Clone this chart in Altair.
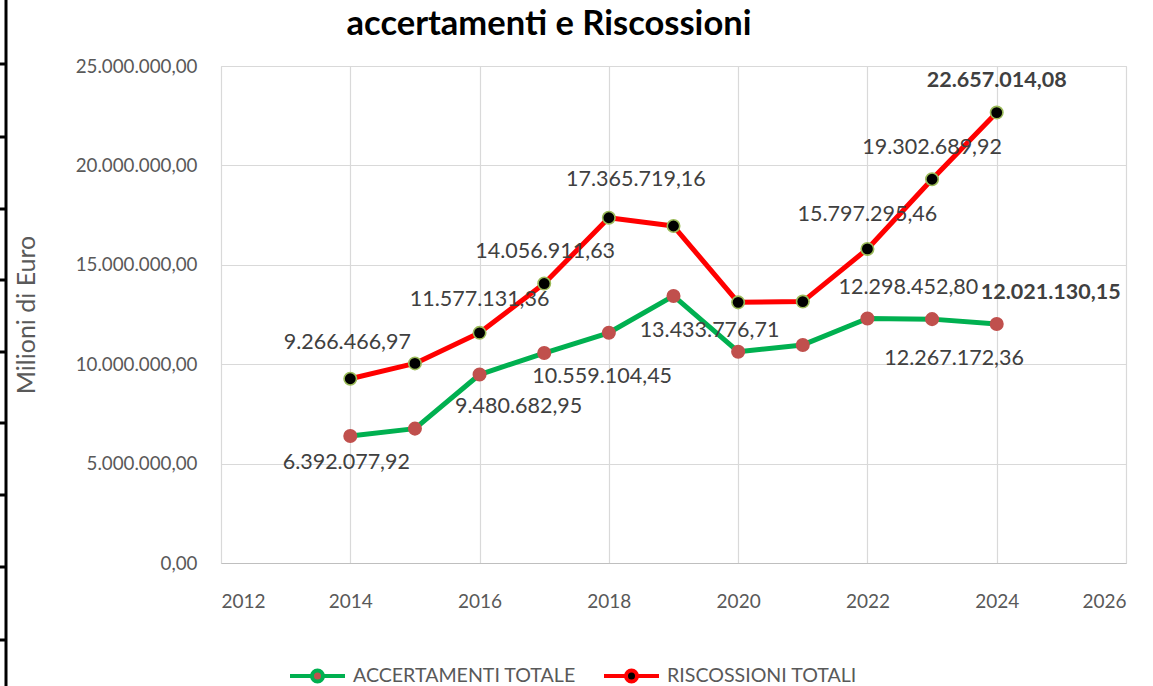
import altair as alt
import pandas as pd

# ---- data ----
years = [2014, 2015, 2016, 2017, 2018, 2019, 2020, 2021, 2022, 2023, 2024]
accertamenti = [6392077.92, 6760000.00, 9480682.95, 10559104.45, 11580000.00,
                13433776.71, 10630000.00, 10970000.00, 12298452.80,
                12267172.36, 12021130.15]
riscossioni = [9266466.97, 10040000.00, 11577131.36, 14056911.63, 17365719.16,
               16950000.00, 13110000.00, 13150000.00, 15797295.46,
               19302689.92, 22657014.08]
series_names = ["ACCERTAMENTI TOTALE", "RISCOSSIONI TOTALI"]
chart_title = "accertamenti e Riscossioni"
y_title = "Milioni di Euro"
x_ticks = [2012, 2014, 2016, 2018, 2020, 2022, 2024, 2026]
y_ticks = [0, 5000000, 10000000, 15000000, 20000000, 25000000]
labeled_acc = [2014, 2016, 2017, 2019, 2022, 2023, 2024]
labeled_ris = [2014, 2016, 2017, 2018, 2022, 2023, 2024]

rows = []
for y, a, r in zip(years, accertamenti, riscossioni):
    rows.append({"year": y, "series": series_names[0], "value": a})
    rows.append({"year": y, "series": series_names[1], "value": r})
df = pd.DataFrame(rows)

# ---- styles ----
FONT = "Lato"
AXIS_GRAY = "#595959"
LABEL_GRAY = "#404040"
W, H = 905, 497

it_fmt = ("replace(replace(replace(format({v}, ',.2f'), regexp(',', 'g'), '#'), "
          "regexp('[.]', 'g'), ','), regexp('#', 'g'), '.')")

x_enc = alt.X("year:Q", scale=alt.Scale(domain=[2012, 2026], nice=False),
              axis=alt.Axis(values=x_ticks, format="d", title=None, ticks=False,
                            labelFont=FONT, labelFontSize=19, labelColor=AXIS_GRAY,
                            labelPadding=29, gridColor="#D9D9D9", gridWidth=1.2,
                            domainColor="#BFBFBF", domainWidth=1.2))
y_enc = alt.Y("value:Q", scale=alt.Scale(domain=[0, 25000000], nice=False),
              axis=alt.Axis(values=y_ticks, title=y_title, ticks=False,
                            domain=False,
                            labelExpr=it_fmt.format(v="datum.value"),
                            labelFont=FONT, labelFontSize=18.75, labelColor=AXIS_GRAY,
                            labelPadding=24, gridColor="#D9D9D9", gridWidth=1.2,
                            titleFont=FONT, titleFontSize=25, titleFontWeight="normal",
                            titleColor=AXIS_GRAY, titleAngle=270, titleX=-195,
                            titleY=H / 2, titleAlign="center",
                            titleBaseline="middle"))

legend_path = ("M-1,0L-0.2,0M0.2,0L1,0"
               "M-0.2,0A0.2,0.2,0,1,1,0.2,0A0.2,0.2,0,1,1,-0.2,0Z")
legend_props = dict(title=None, orient="none", direction="horizontal",
                    legendX=67, legendY=580.5,
                    symbolType=legend_path, symbolSize=3025,
                    symbolStrokeWidth=4, symbolOpacity=1, labelFont=FONT,
                    labelFontSize=19.6, labelColor=AXIS_GRAY, labelLimit=600,
                    labelOffset=6, columnPadding=20, padding=0)

base = alt.Chart(df)

lines = base.mark_line(strokeWidth=5, strokeJoin="round", strokeCap="round").encode(
    x=x_enc, y=y_enc,
    stroke=alt.Stroke("series:N", scale=alt.Scale(domain=series_names,
                                                  range=["#00B050", "#FF0000"]),
                      legend=alt.Legend(**legend_props)),
    detail="series:N",
)

points = base.mark_point(filled=True, size=155, strokeWidth=1.6, opacity=1).encode(
    x="year:Q", y="value:Q",
    fill=alt.Fill("series:N",
                  scale=alt.Scale(domain=series_names, range=["#C0504D", "#000000"]),
                  legend=alt.Legend(**legend_props)),
    stroke=alt.condition(f"datum.series == '{series_names[1]}'",
                         alt.value("#9BBB59"), alt.value("#C0504D")),
)

# label offsets (dx, dy, bold) per series/year
offsets = {
    series_names[0]: {2014: (-4, 27, False), 2016: (39, 32, False), 2017: (58, 24, False),
                      2019: (36, 35, False), 2022: (41, -31, False), 2023: (22, 40, False),
                      2024: (54, -31, True)},
    series_names[1]: {2014: (-3, -36, False), 2016: (0, -33, False), 2017: (1, -32, False),
                      2018: (27, -38, False), 2022: (0, -34, False), 2023: (0, -31, False),
                      2024: (0, -32, True)},
}
labeled = {series_names[0]: labeled_acc, series_names[1]: labeled_ris}

text_layers = []
for s in series_names:
    for yr in labeled[s]:
        dx, dy, bold = offsets[s][yr]
        t = base.transform_filter(
            f"datum.series == '{s}' && datum.year == {yr}"
        ).transform_calculate(
            label=it_fmt.format(v="datum.value")
        ).mark_text(font=FONT, fontSize=21.5, color=LABEL_GRAY, dx=dx, dy=dy,
                    baseline="middle", align="center",
                    fontWeight="bold" if bold else "normal").encode(
            x="year:Q", y="value:Q", text="label:N")
        text_layers.append(t)

one = alt.Data(values=[{"k": 0}])

# chart title, placed over the left part of the plot as in the reference
title_layer = alt.Chart(one).mark_text(
    text=chart_title, font=FONT, fontSize=34.5, fontWeight="bold", color="black",
    align="center", baseline="middle").encode(x=alt.value(328), y=alt.value(-41))

# decoration: dark frame line at the far left of the picture
deco = [alt.Chart(one).mark_rule(color="black", strokeWidth=3).encode(
    x=alt.value(-215), y=alt.value(-66), y2=alt.value(H + 123))]
for ty in [64, 137, 209, 280, 352, 423, 495, 567, 640]:
    deco.append(alt.Chart(one).mark_rule(color="black", strokeWidth=3).encode(
        x=alt.value(-221), x2=alt.value(-215), y=alt.value(ty - 66)))

chart = alt.layer(lines, points, *text_layers, title_layer, *deco).properties(
    width=W, height=H,
    autosize=alt.AutoSizeParams(type="none"),
    padding={"left": 221, "top": 66, "right": 27, "bottom": 123},
).configure_view(stroke=None).configure(background="white")

chart.save("out.html", embed_options={"renderer": "svg", "actions": False})
